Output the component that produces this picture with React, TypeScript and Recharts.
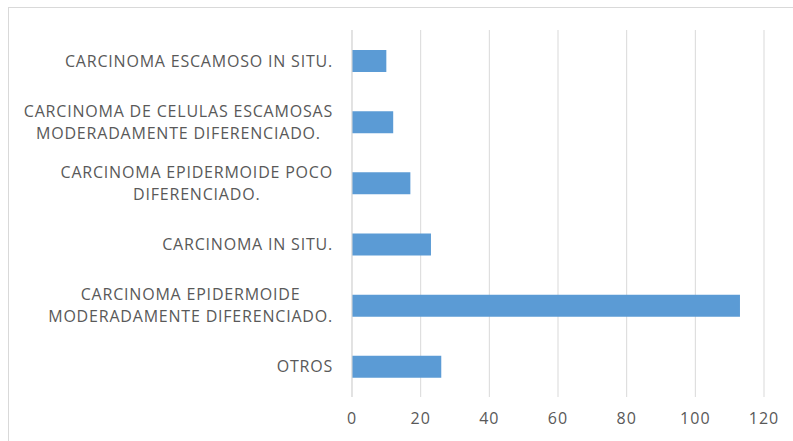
import { BarChart, Bar, XAxis, YAxis, CartesianGrid } from "recharts";

const categories = [
  "CARCINOMA ESCAMOSO IN SITU.",
  "CARCINOMA DE CELULAS ESCAMOSAS\nMODERADAMENTE DIFERENCIADO.",
  "CARCINOMA EPIDERMOIDE POCO\nDIFERENCIADO.",
  "CARCINOMA IN SITU.",
  "CARCINOMA EPIDERMOIDE\nMODERADAMENTE DIFERENCIADO.",
  "OTROS",
];

const values = [10, 12, 17, 23, 113, 26];

const xTicks = [0, 20, 40, 60, 80, 100, 120];

const data = categories.map((name, i) => ({ name, value: values[i] }));

const FONT = "'Open Sans', sans-serif";
const FONT_SIZE = 16;
const LETTER_SP = 0.8;
const TEXT_COLOR = "#595959";

let ctx: CanvasRenderingContext2D | null = null;
function measure(s: string): number {
  if (!ctx) ctx = document.createElement("canvas").getContext("2d");
  if (!ctx) return s.length * 10;
  ctx.font = `${FONT_SIZE}px 'Open Sans'`;
  return ctx.measureText(s).width + s.length * LETTER_SP;
}

function CategoryTick(props: any) {
  const { x, y, payload } = props;
  const lines: string[] = String(payload.value).split("\n");
  const maxW = Math.max(...lines.map(measure));
  const cx = x - maxW / 2;
  const lineH = 22;
  const startY = y - ((lines.length - 1) * lineH) / 2;
  return (
    <text
      textAnchor="middle"
      fill={TEXT_COLOR}
      fontSize={FONT_SIZE}
      fontFamily={FONT}
      letterSpacing={LETTER_SP}
      dominantBaseline="central"
    >
      {lines.map((l, i) => (
        <tspan key={i} x={cx} y={startY + i * lineH}>
          {l}
        </tspan>
      ))}
    </text>
  );
}

export default function App() {
  return (
    <div
      style={{
        position: "absolute",
        left: 0,
        top: 0,
        width: 793,
        height: 441,
        overflow: "hidden",
        background: "#fff",
      }}
    >
      <div
        style={{
          position: "absolute",
          left: 8,
          top: 7,
          width: 800,
          height: 460,
          border: "1px solid #d9d9d9",
        }}
      />
      <div style={{ position: "absolute", left: 0, top: 0 }}>
        <BarChart
          width={793}
          height={441}
          layout="vertical"
          data={data}
          margin={{ top: 30, right: 29, bottom: 14, left: 0 }}
          barSize={22}
        >
          <CartesianGrid horizontal={false} stroke="#d9d9d9" />
          <XAxis
            type="number"
            domain={[0, 120]}
            ticks={xTicks}
            axisLine={false}
            tickLine={false}
            height={30}
            tick={{
              fill: TEXT_COLOR,
              fontSize: FONT_SIZE,
              fontFamily: FONT,
              letterSpacing: 1,
            }}
            tickMargin={10}
          />
          <YAxis
            type="category"
            dataKey="name"
            width={352}
            axisLine={{ stroke: "#d9d9d9" }}
            tickLine={false}
            tickSize={0}
            tickMargin={19}
            interval={0}
            tick={<CategoryTick />}
          />
          <Bar dataKey="value" fill="#5B9BD5" isAnimationActive={false} />
        </BarChart>
      </div>
    </div>
  );
}
